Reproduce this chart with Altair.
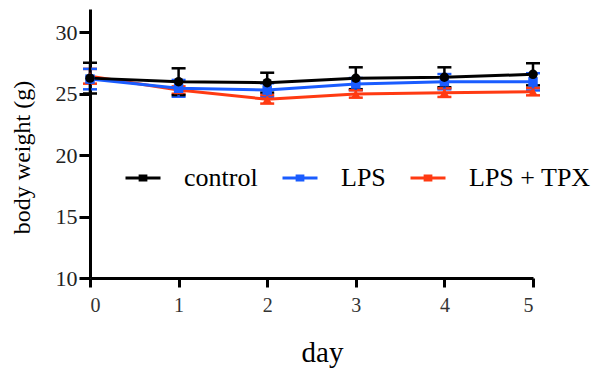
import altair as alt
import pandas as pd

days = [0, 1, 2, 3, 4, 5]
series_names = ["control", "LPS", "LPS + TPX"]
control_mean = [26.25, 25.96, 25.88, 26.24, 26.32, 26.56]
control_sem = [1.25, 1.09, 0.81, 0.89, 0.81, 0.90]
lps_mean = [26.17, 25.42, 25.28, 25.77, 25.96, 25.95]
lps_sem = [0.83, 0.68, 0.55, 0.49, 0.62, 0.70]
tpx_mean = [26.40, 25.28, 24.53, 24.96, 25.07, 25.15]
tpx_sem = [0.60, 0.30, 0.35, 0.30, 0.35, 0.30]
colors = ["#000000", "#1a5cff", "#ff3a12"]
shapes = ["circle", "square", "triangle-up"]

rows = []
# draw order: LPS + TPX first, then LPS, then control on top
for name, means, sems in [("LPS + TPX", tpx_mean, tpx_sem), ("LPS", lps_mean, lps_sem), ("control", control_mean, control_sem)]:
    for d, m, s in zip(days, means, sems):
        rows.append({"day": d, "group": name, "mean": m, "lo": m - s, "hi": m + s})
df = pd.DataFrame(rows)

font = "Liberation Serif"
color_scale = alt.Scale(domain=series_names, range=colors)

x = alt.X("day:Q", scale=alt.Scale(domain=[0, 5], nice=False),
          axis=alt.Axis(values=days, title="day", format="d", grid=False,
                        domainWidth=3, domainColor="black", tickWidth=3, tickColor="black",
                        tickSize=9, labelFont=font, labelFontSize=20, labelColor="#333",
                        labelPadding=8, titleFont=font, titleFontSize=29, titleFontWeight="normal",
                        titleColor="black", titleX=232, titleY=83, titleBaseline="alphabetic"))
y_axis = alt.Axis(values=[10, 15, 20, 25, 30], title="body weight (g)", grid=False,
                  domainWidth=3, domainColor="black", tickWidth=3, tickColor="black",
                  tickSize=11, labelFont=font, labelFontSize=22, labelColor="#222",
                  labelPadding=2, titleFont=font, titleFontSize=24, titleFontWeight="normal",
                  titleColor="black", titleX=-56, titleY=148)
y_scale = alt.Scale(domain=[10, 31.87], nice=False, zero=False)

legend = alt.Legend(title=None, orient="none", direction="horizontal", legendX=34, legendY=150,
                    labelFont=font, labelFontSize=26, labelColor="black", labelOffset=22,
                    symbolType="M-1,0H1M-0.25,-0.12H0.25M-0.25,0.12H0.25", symbolSize=1225,
                    symbolStrokeWidth=3, columnPadding=18, symbolOpacity=1)

base = alt.Chart(df)
color = alt.Color("group:N", scale=color_scale, legend=legend)

err = base.mark_errorbar(ticks={"size": 14, "thickness": 2.5, "opacity": 1},
                         rule={"strokeWidth": 2.5, "opacity": 1}).encode(
    x=x,
    y=alt.Y("lo:Q", scale=y_scale, axis=y_axis),
    y2="hi:Q",
    color=color,
)
line = base.mark_line(strokeWidth=3).encode(
    x=x,
    y=alt.Y("mean:Q", scale=y_scale, axis=y_axis),
    color=color,
    detail="group:N",
)
point_layers = []
for name, shp in [("LPS + TPX", "triangle-up"), ("LPS", "square"), ("control", "circle")]:
    point_layers.append(
        base.transform_filter(alt.datum.group == name)
        .mark_point(filled=True, size=90, opacity=1, shape=shp)
        .encode(x=x, y=alt.Y("mean:Q", scale=y_scale, axis=y_axis), color=color)
    )

chart = alt.layer(err, line, *point_layers).properties(
    width=443, height=269,
    autosize=alt.AutoSizeParams(type="none"),
    padding={"left": 82, "top": 1, "right": 75, "bottom": 92},
).configure(background="white").configure_view(stroke=None)

chart.save("out.html", embed_options={"renderer": "svg", "actions": False})
